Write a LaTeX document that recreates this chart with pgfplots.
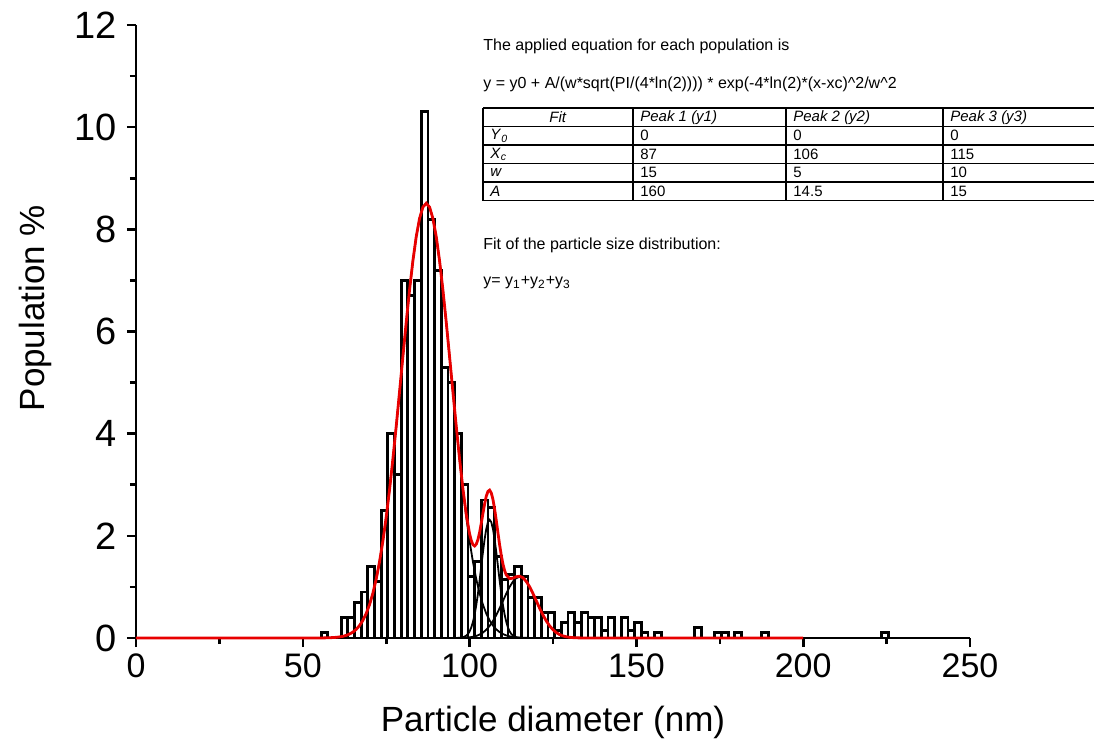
\documentclass[border=0pt]{standalone}
\usepackage{fontspec}
\setmainfont{Liberation Sans}
\usepackage{pgfplots}
\pgfplotsset{compat=1.18}
\definecolor{fitred}{RGB}{232,0,0}
\begin{document}
\begin{tikzpicture}
\path[use as bounding box] (-68pt,-54pt) rectangle (479pt,319pt);
\begin{axis}[
  scale only axis, width=417pt, height=306.5pt,
  xmin=0, xmax=250, ymin=0, ymax=12,
  axis lines=left, axis line style={line width=1.4pt, -},
  xtick={0,50,...,250}, ytick={0,2,...,12},
  minor x tick num=1, minor y tick num=1,
  tick align=outside, major tick length=4.5pt, minor tick length=3pt,
  every tick/.style={line width=1.3pt, black},
  xticklabel style={font=\fontsize{17}{20}\selectfont},
  yticklabel style={font=\fontsize{19}{22}\selectfont, xshift=-1.5pt},
  /pgf/number format/assume math mode=true,
  xlabel={Particle diameter (nm)}, ylabel={Population \%},
  label style={font=\fontsize{17.5}{20}\selectfont},
  xlabel style={at={(axis description cs:0.5,0)}, anchor=center, yshift=-42pt},
  ylabel style={at={(axis description cs:-0.1211,0.538)}, anchor=center},
  clip=false,
]
\addplot[ybar, bar width=2, bar shift=0pt, draw=black, line width=1.4pt, fill=none] table {
x y
56.5 0.1
62.5 0.4
64.5 0.4
66.5 0.7
68.5 0.9
70.5 1.4
72.5 1.1
74.5 2.5
76.5 4.0
78.5 3.2
80.5 7.0
82.5 6.7
84.5 7.0
86.5 10.3
88.5 8.2
90.5 7.2
92.5 5.3
94.5 5.0
96.5 4.0
98.5 3.0
100.5 1.2
102.5 1.5
104.5 2.7
106.5 2.55
108.5 1.6
110.5 1.15
112.5 1.25
114.5 1.4
116.5 1.2
118.5 0.8
120.5 0.8
122.5 0.5
124.5 0.5
126.5 0.15
128.5 0.3
130.5 0.5
132.5 0.3
134.5 0.5
136.5 0.4
138.5 0.4
140.5 0.15
142.5 0.4
146.5 0.4
148.5 0.15
150.5 0.3
152.5 0.1
156.5 0.1
168.5 0.2
174.5 0.1
176.5 0.1
180.5 0.1
188.5 0.1
224.5 0.1
};
% peak 1
\addplot[black, line width=0.9pt] coordinates {
(0,0) (50,0) (55,0.0009) (57,0.0029) (58,0.0048) (59,0.0080) (60,0.0131) (61,0.0209) (62,0.0329) (63,0.0509) (64,0.0773)
(65,0.115) (66,0.169) (67,0.243) (68,0.344) (69,0.478) (70,0.652) (71,0.874) (72,1.152) (73,1.491) (74,1.895)
(75,2.366) (76,2.903) (77,3.499) (78,4.142) (79,4.818) (80,5.505) (81,6.180) (82,6.814) (83,7.382) (84,7.856)
(85,8.213) (86,8.435) (87,8.51) (88,8.435) (89,8.213) (90,7.856) (91,7.382) (92,6.814) (93,6.180) (94,5.505)
(95,4.818) (96,4.142) (97,3.499) (98,2.903) (99,2.366) (100,1.895) (101,1.491) (102,1.152) (103,0.874) (104,0.652)
(105,0.478) (106,0.344) (107,0.243) (108,0.169) (109,0.115) (110,0.0773) (111,0.0509) (112,0.0329) (113,0.0209)
(114,0.0131) (115,0.0080) (117,0.0029) (119,0.0009) (125,0) (200,0)
};
% peak 2
\addplot[black, line width=0.9pt] coordinates {
(94,0) (96,0.0008) (97,0.0036) (98,0.0138) (99,0.0459) (99.5,0.0787) (100,0.130) (100.5,0.206) (101,0.313)
(101.5,0.458) (102,0.643) (102.5,0.868) (103,1.126) (103.5,1.404) (104,1.680) (104.5,1.933) (105,2.136)
(105.5,2.268) (106,2.314) (106.5,2.268) (107,2.136) (107.5,1.933) (108,1.680) (108.5,1.404) (109,1.126)
(109.5,0.868) (110,0.643) (110.5,0.458) (111,0.313) (111.5,0.206) (112,0.130) (112.5,0.0787) (113,0.0459)
(114,0.0138) (115,0.0036) (116,0.0008) (118,0)
};
% peak 3
\addplot[black, line width=0.9pt] coordinates {
(93,0.0001) (95,0.0004) (96,0.0009) (97,0.0018) (98,0.0037) (99,0.0072) (100,0.0133) (101,0.0237) (102,0.0407)
(103,0.0672) (104,0.106) (105,0.162) (106,0.237) (107,0.333) (108,0.449) (109,0.583) (110,0.726) (111,0.869)
(112,1.000) (113,1.105) (114,1.173) (115,1.197) (116,1.173) (117,1.105) (118,1.000) (119,0.869) (120,0.726)
(121,0.583) (122,0.449) (123,0.333) (124,0.237) (125,0.162) (126,0.106) (127,0.0672) (128,0.0407) (129,0.0237)
(130,0.0133) (131,0.0072) (132,0.0037) (133,0.0018) (135,0.0004) (137,0.0001)
};
% sum
\addplot[fitred, line width=1.4pt] coordinates {
(0,0) (50,0) (52,0.0002) (54,0.0005) (56,0.0017) (58,0.0048) (60,0.0131) (61,0.0209) (62,0.0329) (63,0.0509)
(64,0.0773) (65,0.115) (66,0.169) (67,0.243) (68,0.344) (69,0.478) (70,0.652) (71,0.874) (72,1.152) (73,1.491)
(74,1.895) (75,2.366) (76,2.903) (77,3.499) (78,4.142) (79,4.818) (80,5.505) (81,6.180) (82,6.814) (83,7.382)
(84,7.856) (85,8.213) (86,8.435) (87,8.51) (88,8.435) (89,8.213) (90,7.856) (91,7.382) (92,6.814) (93,6.180)
(94,5.505) (95,4.819) (96,4.144) (97,3.504) (98,2.921) (99,2.419) (100,2.038) (100.5,1.908) (101,1.828)
(101.5,1.802) (102,1.836) (102.5,1.926) (103,2.067) (103.5,2.246) (104,2.438) (104.5,2.624) (105,2.776)
(105.5,2.871) (106,2.895) (106.5,2.840) (107,2.712) (107.5,2.525) (108,2.298) (108.5,2.058) (109,1.824)
(109.5,1.617) (110,1.446) (110.5,1.319) (111,1.233) (112,1.163) (113,1.172) (114,1.200) (115,1.209)
(116,1.179) (117,1.108) (118,1.002) (119,0.870) (120,0.727) (121,0.583) (122,0.449) (123,0.333) (124,0.237)
(125,0.162) (126,0.106) (127,0.0672) (128,0.0407) (129,0.0237) (130,0.0133) (131,0.0072) (132,0.0037)
(134,0.0009) (136,0.0001) (140,0) (200,0)
};
\end{axis}
\begin{scope}[font=\fontsize{8}{9.6}\selectfont]
\node[anchor=west, inner sep=0pt] at (173.5pt,296pt) {The applied equation for each population is};
\node[anchor=west, inner sep=0pt] at (173.5pt,277pt) {y = y0 + A/(w*sqrt(PI/(4*ln(2)))) * exp(-4*ln(2)*(x-xc)\textasciicircum 2/w\textasciicircum 2};
\node[anchor=west, inner sep=0pt] at (173.5pt,196.5pt) {Fit of the particle size distribution:};
\node[anchor=west, inner sep=0pt] at (173.5pt,177.5pt) {y= y\textsubscript{1}+y\textsubscript{2}+y\textsubscript{3}};
\end{scope}
\begin{scope}[line width=0.7pt]
\foreach \yy in {265,255.75,246.5,237.25,228,218.75} \draw (173.5pt,\yy pt) -- (479pt,\yy pt);
\foreach \xx in {173.5,248.5,325,403.5} \draw (\xx pt,265pt) -- (\xx pt,218.75pt);
\end{scope}
\begin{scope}[font=\fontsize{7.5}{9}\selectfont, inner sep=0pt]
\node at (211pt,260.4pt) {\textit{Fit}};
\node[anchor=west] at (252pt,260.4pt) {\textit{Peak 1 (y1)}};
\node[anchor=west] at (328.5pt,260.4pt) {\textit{Peak 2 (y2)}};
\node[anchor=west] at (407pt,260.4pt) {\textit{Peak 3 (y3)}};
\node[anchor=west] at (177pt,251.1pt) {\textit{Y}\textsubscript{\textit{0}}};
\node[anchor=west] at (177pt,241.9pt) {\textit{X}\textsubscript{\textit{c}}};
\node[anchor=west] at (177pt,232.6pt) {\textit{w}};
\node[anchor=west] at (177pt,223.4pt) {\textit{A}};
\node[anchor=west] at (252pt,251.1pt) {0};
\node[anchor=west] at (328.5pt,251.1pt) {0};
\node[anchor=west] at (407pt,251.1pt) {0};
\node[anchor=west] at (252pt,241.9pt) {87};
\node[anchor=west] at (328.5pt,241.9pt) {106};
\node[anchor=west] at (407pt,241.9pt) {115};
\node[anchor=west] at (252pt,232.6pt) {15};
\node[anchor=west] at (328.5pt,232.6pt) {5};
\node[anchor=west] at (407pt,232.6pt) {10};
\node[anchor=west] at (252pt,223.4pt) {160};
\node[anchor=west] at (328.5pt,223.4pt) {14.5};
\node[anchor=west] at (407pt,223.4pt) {15};
\end{scope}
\end{tikzpicture}
\end{document}
